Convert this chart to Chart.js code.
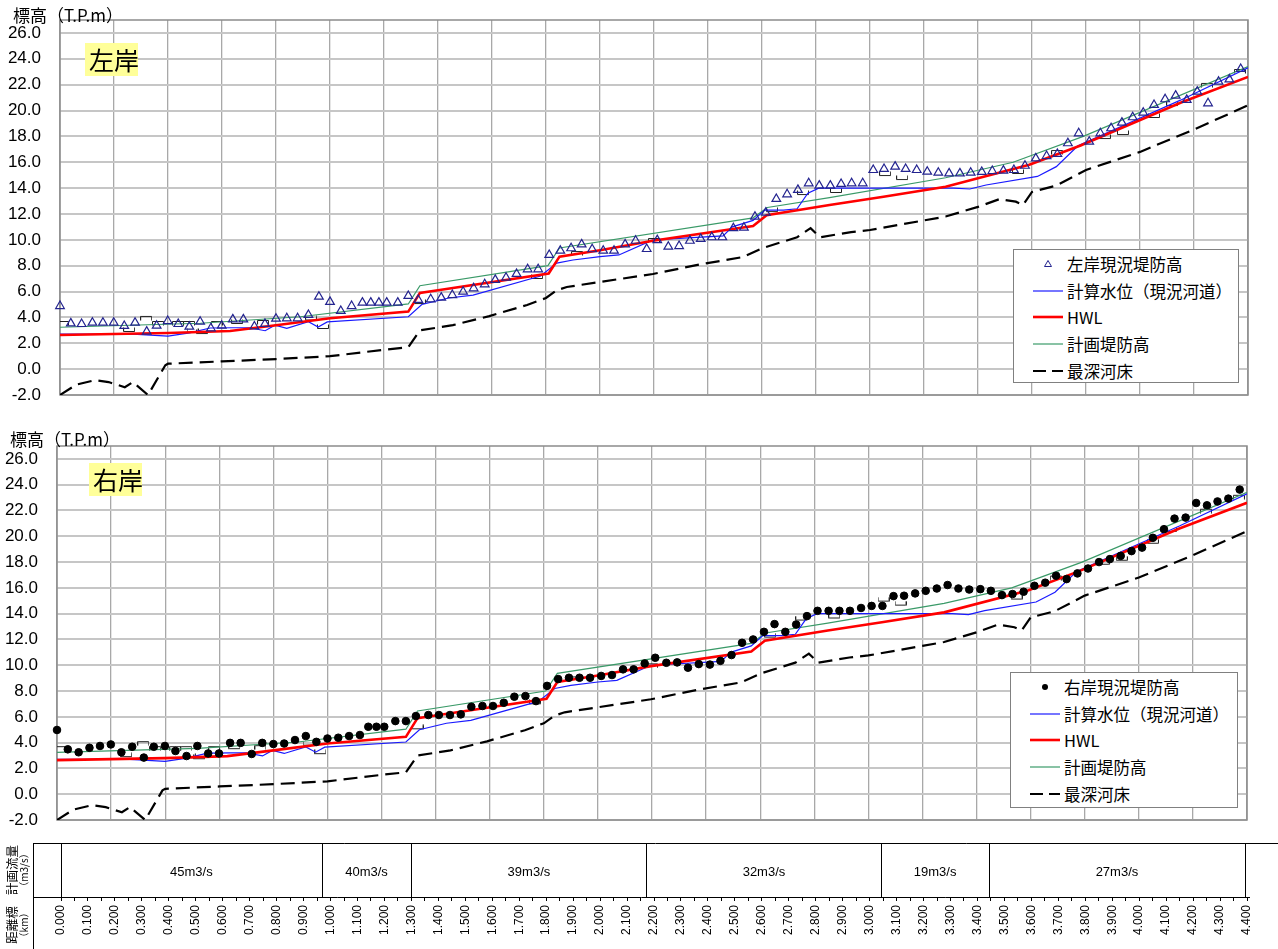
<!DOCTYPE html>
<html lang="ja">
<head>
<meta charset="UTF-8">
<title>縦断図</title>
<script src="https://cdn.jsdelivr.net/npm/chart.js"></script>
<style>
    body {
        margin: 0;
        background: #fff;
        font-family: "Noto Sans CJK JP", sans-serif;
    }
    #page {
        position: relative;
        width: 1278px;
        height: 949px;
        overflow: hidden;
    }
    canvas {
        position: absolute;
        left: 0;
    }
    .ytitle {
        position: absolute;
        font-size: 17px;
        line-height: 20px;
        white-space: nowrap;
        color: #000;
    }
    .bank {
        position: absolute;
        width: 53px;
        height: 33px;
        background: #ffff99;
        font-size: 25px;
        line-height: 33px;
        padding-left: 4px;
        box-sizing: border-box;
        white-space: nowrap;
        color: #000;
    }
    .legend {
        position: absolute;
        background: #fff;
        border: 1px solid #808080;
        box-sizing: border-box;
        padding-top: 1px;
    }
    .lg-row {
        display: flex;
        align-items: center;
        height: 26.6px;
        padding-left: 19px;
        font-size: 16.5px;
        white-space: nowrap;
        color: #000;
    }
    .lg-row svg {
        margin-right: 4px;
        flex: none;
    }
</style>
</head>
<body>
<div id="page">
    <canvas id="leftChart" width="1278" height="410" style="top:0"></canvas>
    <canvas id="rightChart" width="1278" height="410" style="top:420px"></canvas>
    <canvas id="tableChart" width="1278" height="119" style="top:830px"></canvas>

    <div class="ytitle" style="left:13px; top:5px">標高（T.P.m）</div>
    <div class="ytitle" style="left:10px; top:429px">標高（T.P.m）</div>
    <div class="bank" style="left:85px; top:43px">左岸</div>
    <div class="bank" style="left:89px; top:463px">右岸</div>
    <div class="legend" id="leftLegend" style="left:1013px; top:249px; width:226px; height:134px"></div>
    <div class="legend" id="rightLegend" style="left:1010px; top:672px; width:228px; height:136px"></div>
</div>

<script>
// 測点 (km) - 左右岸共通
const stationKm = [
    0.000, 0.040, 0.080, 0.120, 0.159, 0.199, 0.238, 0.278, 0.321, 0.358,
    0.399, 0.438, 0.479, 0.519, 0.559, 0.599, 0.640, 0.679, 0.720, 0.759,
    0.800, 0.840, 0.880, 0.920, 0.959, 1.000, 1.040, 1.080, 1.120, 1.151,
    1.181, 1.210, 1.251, 1.290, 1.327,
    1.373, 1.412, 1.453, 1.493, 1.532, 1.573, 1.612, 1.652, 1.691, 1.732,
    1.771, 1.812, 1.853, 1.893, 1.932, 1.971, 2.012, 2.052, 2.093, 2.132,
    2.173, 2.212, 2.253, 2.293, 2.333, 2.373, 2.414, 2.453, 2.494, 2.533,
    2.574, 2.614, 2.653, 2.693, 2.733, 2.773, 2.812, 2.853, 2.893,
    2.932, 2.973, 3.012, 3.052, 3.093, 3.132, 3.173, 3.212, 3.253, 3.293,
    3.333, 3.373, 3.414, 3.453, 3.494, 3.533, 3.574, 3.614, 3.654, 3.694,
    3.733, 3.773, 3.812, 3.853, 3.893, 3.933, 3.973, 4.012, 4.052, 4.093,
    4.132, 4.173, 4.212, 4.252, 4.291, 4.331, 4.373
];

// 左岸現況堤防高
const leftBankEl = [
    4.88, 3.54, 3.49, 3.59, 3.59, 3.59, 3.34, 3.59, 2.90, 3.36,
    3.72, 3.49, 3.28, 3.67, 3.16, 3.36, 3.85, 3.85, 3.30, 3.50,
    3.90, 3.93, 3.93, 4.19, 5.60, 5.20, 4.50, 4.88, 5.14, 5.14,
    5.14, 5.14, 5.14, 5.66, 5.35,
    5.40, 5.53, 5.73, 5.99, 6.25, 6.56, 6.90, 7.07, 7.36, 7.72,
    7.72, 8.83, 9.16, 9.35, 9.65, 9.27, 9.16, 9.16, 9.65, 9.93,
    9.29, 9.98, 9.47, 9.52, 9.93, 10.07, 10.20, 10.20, 10.90, 10.94,
    11.79, 12.10, 13.16, 13.52, 13.86, 14.37, 14.19, 14.19, 14.32,
    14.37, 14.37, 15.40, 15.48, 15.66, 15.48, 15.40, 15.27, 15.19, 15.14,
    15.14, 15.19, 15.25, 15.32, 15.35, 15.40, 15.73, 16.30, 16.48, 16.64,
    17.47, 18.24, 17.59, 18.24, 18.63, 19.06, 19.48, 19.83, 20.43, 20.87,
    21.15, 20.82, 21.46, 20.56, 22.23, 22.41, 23.21
];

// 右岸現況堤防高
const rightBankEl = [
    4.98, 3.48, 3.25, 3.60, 3.74, 3.86, 3.25, 3.68, 2.84, 3.68,
    3.74, 3.35, 2.96, 3.74, 3.16, 3.16, 3.98, 3.98, 3.12, 3.98,
    3.89, 3.93, 4.20, 4.51, 4.06, 4.32, 4.38, 4.51, 4.59, 5.23,
    5.23, 5.23, 5.67, 5.67, 6.06,
    6.14, 6.14, 6.14, 6.19, 6.78, 6.84, 6.84, 7.09, 7.56, 7.61,
    7.22, 8.40, 8.93, 9.03, 9.03, 9.03, 9.17, 9.24, 9.68, 9.68,
    10.14, 10.58, 10.19, 10.22, 9.81, 10.09, 10.05, 10.34, 10.79, 11.74,
    12.00, 12.59, 13.19, 12.59, 13.16, 13.81, 14.22, 14.22, 14.22, 14.22,
    14.44, 14.60, 14.60, 15.36, 15.39, 15.57, 15.77, 15.95, 16.22, 15.95,
    15.87, 15.90, 15.77, 15.44, 15.52, 15.70, 16.16, 16.40, 16.94, 16.68,
    17.12, 17.50, 18.00, 18.23, 18.48, 18.85, 19.12, 19.88, 20.55, 21.37,
    21.45, 22.58, 22.40, 22.70, 22.92, 23.62
];

// 計算水位（現況河道）
const calcWlKm = [0, 0.27, 0.40, 0.48, 0.556, 0.64, 0.70, 0.76, 0.796, 0.84, 0.92, 0.956, 0.99,
    1.29, 1.34, 1.44, 1.53, 1.78, 1.84, 1.90, 2.00, 2.07, 2.196, 2.456, 2.49, 2.567, 2.61,
    2.68, 2.73, 2.77, 2.81, 3.31, 3.37, 3.43, 3.62, 3.69, 3.77, 4.15, 4.40];
const calcWlEl = [2.70, 2.70, 2.55, 2.80, 3.18, 3.20, 3.20, 2.97, 3.40, 3.16, 3.67, 3.26, 3.65,
    4.05, 5.00, 5.50, 5.73, 7.20, 8.20, 8.44, 8.70, 8.83, 10.00, 10.30, 11.00, 11.50, 12.30,
    12.30, 12.40, 13.60, 14.00, 14.00, 13.93, 14.24, 14.90, 15.66, 17.27, 20.80, 23.30];

// HWL
const hwlKm = [0, 0.40, 0.63, 0.80, 1.00, 1.29, 1.333, 1.40, 1.81, 1.85, 2.00, 2.196,
    2.567, 2.617, 2.85, 3.05, 3.28, 3.59, 3.78, 4.15, 4.40];
const hwlEl = [2.64, 2.80, 2.95, 3.40, 3.93, 4.45, 5.90, 6.10, 7.40, 8.70, 9.20, 9.93,
    11.07, 11.90, 12.70, 13.33, 14.10, 15.80, 17.30, 20.60, 22.60];

// 計画堤防高
const planKm = [0, 0.52, 0.89, 1.29, 1.333, 1.807, 1.85, 2.567, 2.62, 2.85, 3.28, 3.53, 3.79, 4.40];
const planEl = [3.24, 3.55, 4.05, 5.04, 6.45, 8.00, 9.37, 11.70, 12.50, 13.26, 14.80, 16.00, 18.00, 23.40];

// 最深河床
const bedKm = [0, 0.06, 0.13, 0.18, 0.24, 0.27, 0.326, 0.39, 0.40, 0.60, 0.80, 1.00, 1.20, 1.29,
    1.333, 1.455, 1.59, 1.73, 1.80, 1.84, 1.877, 2.00, 2.196, 2.37, 2.53, 2.60, 2.73, 2.78,
    2.815, 2.93, 3.00, 3.20, 3.28, 3.40, 3.48, 3.54, 3.567, 3.60, 3.69, 3.80, 4.00, 4.196, 4.40];
const bedEl = [-2.0, -1.2, -0.85, -1.0, -1.4, -1.0, -2.0, 0.3, 0.42, 0.6, 0.78, 1.0, 1.5, 1.7,
    3.0, 3.4, 4.1, 4.96, 5.5, 6.1, 6.35, 6.74, 7.36, 8.1, 8.67, 9.35, 10.2, 10.9,
    10.2, 10.6, 10.76, 11.5, 11.8, 12.55, 13.15, 12.95, 12.7, 13.7, 14.2, 15.4, 16.8, 18.5, 20.4];

// 凡例なしの小さな括弧記号（上向き ⊔ / 下向き ⊓）
const cupKm = [0.256, 0.491, 0.526, 0.656, 0.93, 0.974, 1.333, 1.767, 2.637, 2.752, 2.874,
    3.056, 3.119, 3.548, 3.87, 3.937, 4.052, 4.119];
const cupEl = [3.03, 2.95, 2.87, 3.65, 3.92, 3.26, 5.19, 7.13, 12.3, 13.62, 13.78,
    15.09, 14.78, 15.25, 17.95, 18.26, 19.58, 20.5];
const capKm = [0.011, 0.319, 0.363, 0.437, 0.478, 0.581, 0.752, 1.915, 2.2, 3.693, 4.248, 4.37];
const capEl = [3.57, 3.96, 3.57, 3.57, 3.57, 3.57, 3.65, 8.98, 9.99, 16.79, 21.98, 23.06];

// 縦軸目盛
const yTickValues = [-2, 0, 2, 4, 6, 8, 10, 12, 14, 16, 18, 20, 22, 24, 26];

// 計画流量
const flowBreakKm = [0, 0.967, 1.30, 2.172, 3.044, 3.442, 4.393];
const flowLabels = ['45m3/s', '40m3/s', '39m3/s', '32m3/s', '19m3/s', '27m3/s'];

function pts(xs, ys) {
    return xs.map((x, i) => ({ x: x, y: ys[i] }));
}

// 括弧記号の画像
function bracketImage(openUp) {
    const c = document.createElement('canvas');
    c.width = 12;
    c.height = 6;
    const g = c.getContext('2d');
    g.strokeStyle = '#222';
    g.lineWidth = 1;
    g.beginPath();
    if (openUp) {
        g.moveTo(0.5, 0.5); g.lineTo(0.5, 4.5); g.lineTo(11.5, 4.5); g.lineTo(11.5, 0.5);
    } else {
        g.moveTo(0.5, 5.5); g.lineTo(0.5, 1.5); g.lineTo(11.5, 1.5); g.lineTo(11.5, 5.5);
    }
    g.stroke();
    return c;
}
const cupImg = bracketImage(true);
const capImg = bracketImage(false);

function makeDatasets(bankLabel, bankEl, isTriangle) {
    return [
        {
            label: bankLabel,
            data: pts(stationKm, bankEl),
            showLine: false,
            pointStyle: isTriangle ? 'triangle' : 'circle',
            pointRadius: isTriangle ? 5 : 3.8,
            borderColor: isTriangle ? '#23238f' : '#000',
            backgroundColor: isTriangle ? 'rgba(255,255,255,0)' : '#000',
            pointBorderWidth: isTriangle ? 1.2 : 1,
            clip: false,
            order: 0
        },
        {
            label: '計算水位（現況河道）',
            data: pts(calcWlKm, calcWlEl),
            borderColor: '#1a1aff',
            borderWidth: 1.2,
            pointRadius: 0,
            order: 2
        },
        {
            label: 'HWL',
            data: pts(hwlKm, hwlEl),
            borderColor: '#ff0000',
            borderWidth: 2.6,
            pointRadius: 0,
            order: 1
        },
        {
            label: '計画堤防高',
            data: pts(planKm, planEl),
            borderColor: '#3a9a68',
            borderWidth: 1.2,
            pointRadius: 0,
            order: 3
        },
        {
            label: '最深河床',
            data: pts(bedKm, bedEl),
            borderColor: '#000',
            borderWidth: 2.2,
            borderDash: [14, 7],
            pointRadius: 0,
            order: 4
        },
        {
            label: '',
            hideInLegend: true,
            data: pts(cupKm, cupEl),
            showLine: false,
            pointStyle: cupImg,
            order: 5
        },
        {
            label: '',
            hideInLegend: true,
            data: pts(capKm, capEl),
            showLine: false,
            pointStyle: capImg,
            order: 5
        }
    ];
}

// プロット枠
const framePlugin = {
    id: 'frame',
    beforeDatasetsDraw(chart) {
        const a = chart.chartArea;
        const ctx = chart.ctx;
        ctx.save();
        ctx.strokeStyle = '#8c8c8c';
        ctx.lineWidth = 1.5;
        ctx.strokeRect(a.left, a.top, a.right - a.left, a.bottom - a.top);
        ctx.restore();
    }
};

function makeChart(id, datasets, axisWidth, padTop, padBottom, padRight) {
    return new Chart(document.getElementById(id), {
        type: 'line',
        data: { datasets: datasets },
        options: {
            responsive: false,
            animation: false,
            layout: { padding: { left: 0, right: padRight, top: padTop, bottom: padBottom } },
            plugins: {
                legend: { display: false },
                tooltip: { enabled: false }
            },
            scales: {
                x: {
                    type: 'linear',
                    min: 0,
                    max: 4.4,
                    ticks: { display: false, stepSize: 0.2 },
                    grid: { color: '#a8a8a8', lineWidth: 1.3, drawTicks: false },
                    border: { display: false },
                    afterFit(s) {
                        s.height = 0;
                        s.paddingLeft = 0;
                        s.paddingRight = 0;
                    }
                },
                y: {
                    min: -2,
                    max: 27,
                    ticks: {
                        padding: 19,
                        color: '#000',
                        font: { family: '"Liberation Sans", Arial, sans-serif', size: 17 },
                        callback: v => v.toFixed(1)
                    },
                    grid: { color: '#c6c6c6', lineWidth: 2, drawTicks: false },
                    border: { display: false },
                    afterBuildTicks(s) {
                        s.ticks = yTickValues.map(v => ({ value: v }));
                    },
                    afterFit(s) {
                        s.width = axisWidth;
                        s.paddingTop = 0;
                        s.paddingBottom = 0;
                    }
                }
            }
        },
        plugins: [framePlugin]
    });
}

function buildLegend(chart, el) {
    chart.data.datasets.forEach(ds => {
        if (ds.hideInLegend) return;
        const row = document.createElement('div');
        row.className = 'lg-row';
        let svg;
        if (ds.showLine === false) {
            if (ds.pointStyle === 'triangle') {
                svg = '<svg width="30" height="12"><polygon points="15,2.5 18.5,8.5 11.5,8.5" fill="none" stroke="' +
                    ds.borderColor + '" stroke-width="1"/></svg>';
            } else {
                svg = '<svg width="30" height="12"><circle cx="15" cy="6" r="3" fill="#000"/></svg>';
            }
        } else {
            const dash = ds.borderDash ? ' stroke-dasharray="13,6"' : '';
            svg = '<svg width="30" height="12"><line x1="0" y1="6" x2="30" y2="6" stroke="' + ds.borderColor +
                '" stroke-width="' + ds.borderWidth + '"' + dash + '/></svg>';
        }
        row.innerHTML = svg + '<span>' + ds.label + '</span>';
        el.appendChild(row);
    });
}

const leftChart = makeChart('leftChart', makeDatasets('左岸現況堤防高', leftBankEl, true), 60, 20, 15, 30);
const rightChart = makeChart('rightChart', makeDatasets('右岸現況堤防高', rightBankEl, false), 57, 26, 10, 31);
buildLegend(leftChart, document.getElementById('leftLegend'));
buildLegend(rightChart, document.getElementById('rightLegend'));

// 計画流量・距離標の表
const tablePlugin = {
    id: 'flowTable',
    afterDraw(chart) {
        const ctx = chart.ctx;
        const a = chart.chartArea;
        const x = chart.scales.x;
        const H = chart.height;
        const top = Math.round(a.top) + 0.5;
        const mid = Math.round(a.bottom) + 0.5;
        ctx.save();
        ctx.strokeStyle = '#000';
        ctx.lineWidth = 1;
        ctx.beginPath();
        ctx.moveTo(33, top); ctx.lineTo(1278, top);
        ctx.moveTo(33, mid); ctx.lineTo(1250, mid);
        ctx.moveTo(33.5, top); ctx.lineTo(33.5, H);
        flowBreakKm.forEach(k => {
            const px = Math.round(x.getPixelForValue(k)) + 0.5;
            ctx.moveTo(px, top); ctx.lineTo(px, mid);
        });
        ctx.stroke();

        ctx.fillStyle = '#000';
        ctx.textAlign = 'center';
        ctx.textBaseline = 'middle';
        ctx.font = '13px "Liberation Sans"';
        const cy = (a.top + a.bottom) / 2 + 2;
        flowLabels.forEach((t, i) => {
            const cx = (x.getPixelForValue(flowBreakKm[i]) + x.getPixelForValue(flowBreakKm[i + 1])) / 2;
            ctx.fillText(t, cx, cy);
        });

        function vtext(t, px, py, font) {
            ctx.save();
            ctx.translate(px, py);
            ctx.rotate(-Math.PI / 2);
            ctx.font = font;
            ctx.fillText(t, 0, 0);
            ctx.restore();
        }
        vtext('計画流量', 12, cy - 2, '12.5px "Noto Sans CJK JP"');
        vtext('（m3/s）', 24, cy - 2, '10px "Noto Sans CJK JP"');
        vtext('距離標', 12, 95, '12.5px "Noto Sans CJK JP"');
        vtext('（km）', 24, 95, '10px "Noto Sans CJK JP"');
        ctx.restore();
    }
};

new Chart(document.getElementById('tableChart'), {
    type: 'line',
    data: { datasets: [{ data: [] }] },
    options: {
        responsive: false,
        animation: false,
        layout: { padding: { left: 61, right: 31, top: 13, bottom: 0 } },
        plugins: {
            legend: { display: false },
            tooltip: { enabled: false }
        },
        scales: {
            x: {
                type: 'linear',
                min: 0,
                max: 4.4,
                ticks: {
                    stepSize: 0.05,
                    autoSkip: false,
                    minRotation: 90,
                    maxRotation: 90,
                    padding: 4,
                    color: '#000',
                    font: { family: '"Liberation Sans", Arial, sans-serif', size: 12 },
                    callback: v => (Math.round(v * 100) % 10 === 0) ? v.toFixed(3) : ''
                },
                grid: { drawOnChartArea: false, drawTicks: true, tickLength: 4, color: '#000' },
                border: { display: false },
                afterFit(s) {
                    s.height = 52;
                    s.paddingLeft = 0;
                    s.paddingRight = 0;
                }
            },
            y: { display: false, min: 0, max: 1 }
        }
    },
    plugins: [tablePlugin]
});
</script>
</body>
</html>
